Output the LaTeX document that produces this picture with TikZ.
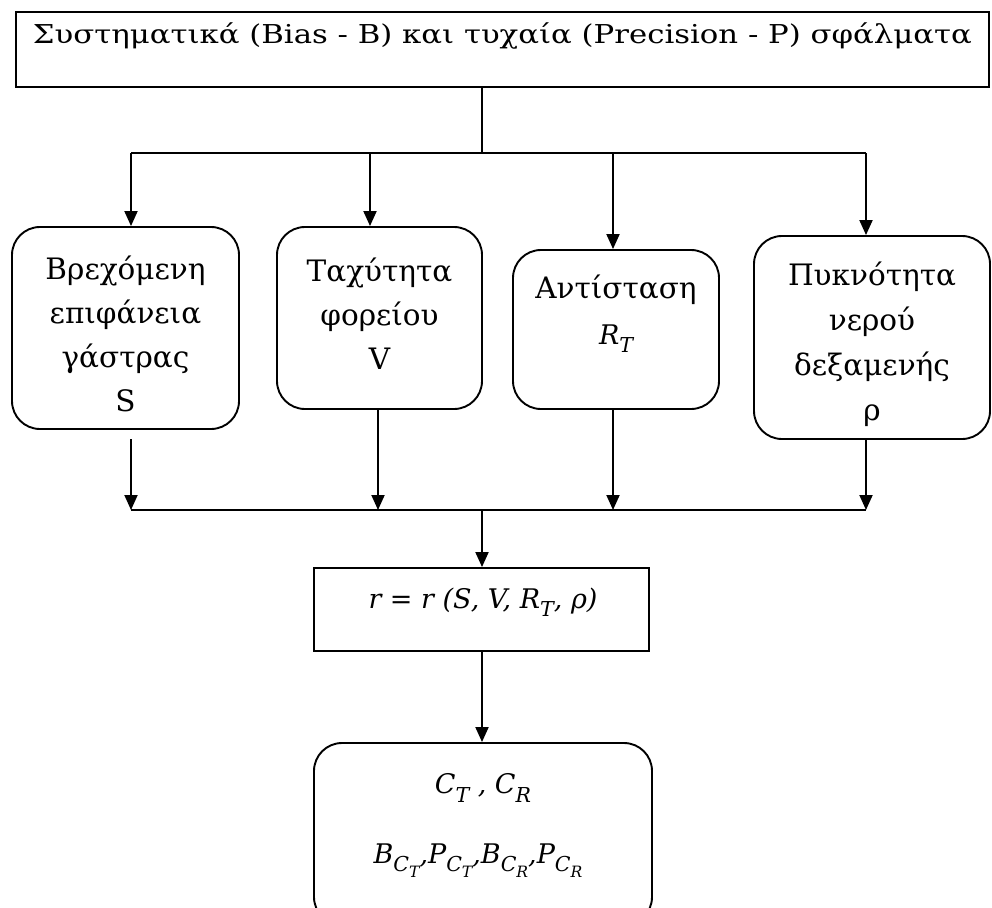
\documentclass[tikz,border=0pt]{standalone}
\usepackage{fontspec}
\usepackage{graphicx}
\setmainfont{DejaVu Serif}
\usetikzlibrary{arrows.meta}
% lowered, reduced index for variable names
\newcommand\low[1]{\raisebox{-0.3em}{\scalebox{0.76}{#1}}}
\begin{document}
\begin{tikzpicture}[x=1pt,y=-1pt,
  frame/.style={draw, line width=1.9pt, inner sep=0pt},
  roundbox/.style={draw, line width=1.9pt, rounded corners=28pt, inner sep=0pt},
  txt/.style={align=center, inner sep=0pt, font=\fontsize{29.5}{44}\selectfont},
  mtxt/.style={inner sep=0pt, font=\fontsize{27}{30}\selectfont\itshape},
  link/.style={line width=1.9pt},
  arr/.style={line width=1.9pt, -{Triangle[length=15pt,width=13pt]}}]
\useasboundingbox (0,0) rectangle (992,907);
\clip (0,0) rectangle (992,907);

% header
\node[frame, minimum width=973pt, minimum height=75pt] (top) at (502.5,49.5) {};
\node[inner sep=0pt] (title) at (502.5,36)
  {\resizebox{939pt}{\height}{\fontsize{26}{30}\selectfont Συστηματικά (Bias - B) και τυχαία (Precision - P) σφάλματα}};

% the four quantities
\node[roundbox, minimum width=227pt, minimum height=202pt] (b1) at (125.5,328) {};
\node[roundbox, minimum width=205pt, minimum height=182pt] (b2) at (379.5,318) {};
\node[roundbox, minimum width=206pt, minimum height=159pt] (b3) at (616,329.5) {};
\node[roundbox, minimum width=236pt, minimum height=203pt] (b4) at (872,337.5) {};

\node[txt] (t1) at (125.5,334) {Βρεχόμενη\\επιφάνεια\\γάστρας\\S};
\node[txt] (t2) at (379.5,313.5) {Ταχύτητα\\φορείου\\V};
\node[txt] (t3) at (616,314) {Αντίσταση\\[2pt]{\fontsize{27}{30}\selectfont\itshape R\low{T}}};
\node[txt, font=\fontsize{29.5}{45}\selectfont] (t4) at (872,344.5) {Πυκνότητα\\νερού\\δεξαμενής\\ρ};

% result boxes
\node[frame, minimum width=335pt, minimum height=83pt] (rel) at (481.5,609.5) {};
\node[mtxt] (reltext) at (483,602) {r = r (S, V, R\low{T}, ρ)};
\node[roundbox, minimum width=338pt, minimum height=182pt] (res) at (483,834) {};
\node[mtxt] (cc) at (483,788) {C\low{T} , C\low{R}};
\node[mtxt] (bp) at (478,861) {B\low{C\low{T}},P\low{C\low{T}},B\low{C\low{R}},P\low{C\low{R}}};

% distribution lines
\coordinate (hub) at (482,153);
\coordinate (a1) at (131,153);
\coordinate (a2) at (370,153);
\coordinate (a3) at (613,153);
\coordinate (a4) at (866,153);
\draw[line width=1.3pt] (top.south -| hub) -- (hub);
\draw[link] (a1) -- (a4);
\draw[arr] (a1) -- (a1 |- b1.north);
\draw[arr] (a2) -- (a2 |- b2.north);
\draw[arr] (a3) -- (a3 |- b3.north);
\draw[arr] (a4) -- (a4 |- b4.north);

% collecting lines
\coordinate (c1) at (131,510);
\coordinate (c2) at (378,510);
\coordinate (c3) at (613,510);
\coordinate (c4) at (866,510);
\coordinate (hub2) at (482,510);
\coordinate (s1) at (131,439);
\draw[arr] (s1) -- (c1);
\draw[arr] (c2 |- b2.south) -- (c2);
\draw[arr] (c3 |- b3.south) -- (c3);
\draw[arr] (c4 |- b4.south) -- (c4);
\draw[link] (c1) -- (c4);
\draw[arr] (hub2) -- (hub2 |- rel.north);
\draw[arr] (hub2 |- rel.south) -- (hub2 |- res.north);
\end{tikzpicture}
\end{document}
